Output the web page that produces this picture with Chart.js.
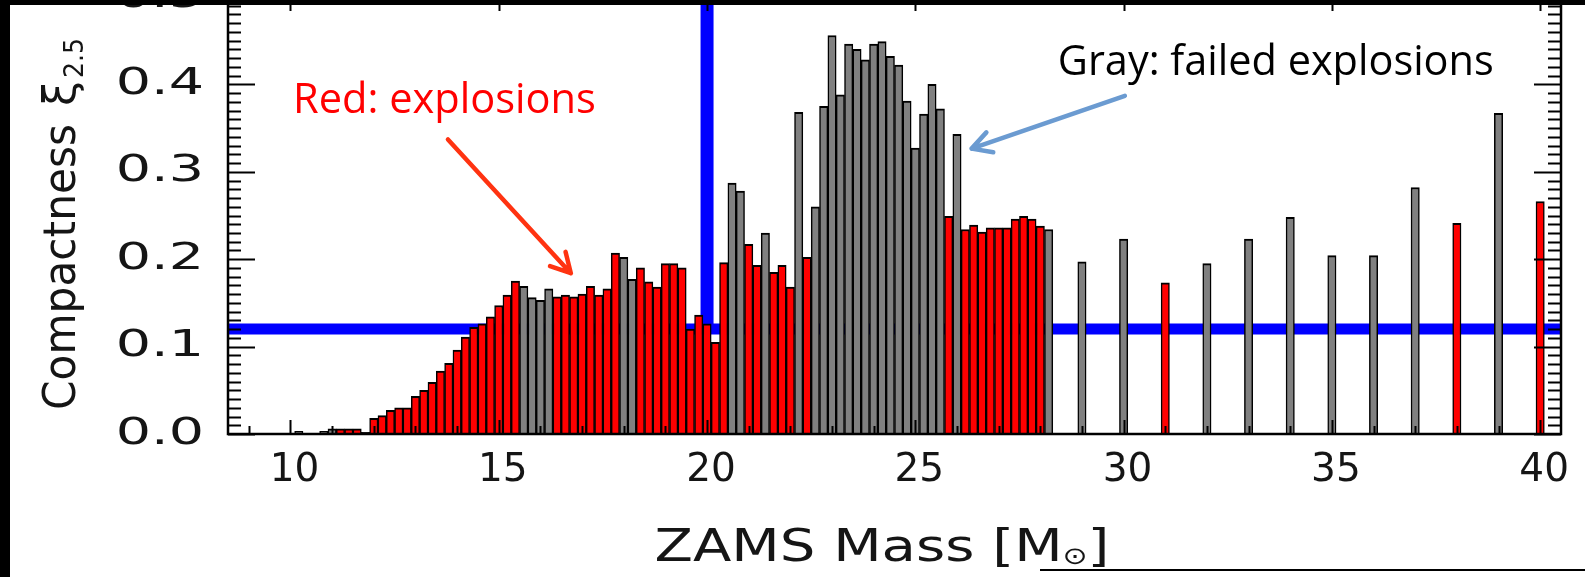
<!DOCTYPE html>
<html>
<head>
<meta charset="utf-8">
<script src="https://cdn.jsdelivr.net/npm/chart.js@4"></script>
<style>
  body { margin: 0; background: #fff; width: 1585px; height: 577px; overflow: hidden; position: relative; }
  #wrap { position: absolute; left: 0; top: -10px; width: 1585px; height: 587px; }
  .edge { position: absolute; background: #000; }
</style>
</head>
<body>
<div id="wrap"><canvas id="chart" width="1585" height="587"></canvas></div>
<div class="edge" style="left:0;top:0;width:10px;height:577px"></div>
<div class="edge" style="left:0;top:0;width:1585px;height:5px"></div>
<div class="edge" style="left:1040px;top:569px;width:545px;height:2px"></div>
<script>
// ZAMS mass of each progenitor (Msun)
const masses = [
  10.2, 10.8, 11.0, 11.2, 11.4, 11.6, 11.8,
  12.0, 12.2, 12.4, 12.6, 12.8, 13.0, 13.2, 13.4, 13.6, 13.8,
  14.0, 14.2, 14.4, 14.6, 14.8, 15.0, 15.2, 15.4, 15.6, 15.8,
  16.0, 16.2, 16.4, 16.6, 16.8, 17.0, 17.2, 17.4, 17.6, 17.8,
  18.0, 18.2, 18.4, 18.6, 18.8, 19.0, 19.2, 19.4, 19.6, 19.8,
  20.0, 20.2, 20.4, 20.6, 20.8, 21.0, 21.2, 21.4, 21.6, 21.8,
  22.0, 22.2, 22.4, 22.6, 22.8, 23.0, 23.2, 23.4, 23.6, 23.8,
  24.0, 24.2, 24.4, 24.6, 24.8, 25.0, 25.2, 25.4, 25.6, 25.8,
  26.0, 26.2, 26.4, 26.6, 26.8, 27.0, 27.2, 27.4, 27.6, 27.8,
  28.0, 28.2,
  29, 30, 31, 32, 33, 34, 35, 36, 37, 38, 39, 40
];

// compactness xi_2.5 at bounce
const compactness = [
  0.003, 0.003, 0.006, 0.006, 0.006, 0.006, 0.002,
  0.018, 0.021, 0.027, 0.030, 0.030, 0.043, 0.050, 0.059, 0.072, 0.081,
  0.096, 0.111, 0.122, 0.126, 0.134, 0.147, 0.159, 0.175, 0.169, 0.156,
  0.153, 0.166, 0.157, 0.159, 0.157, 0.160, 0.169, 0.159, 0.166, 0.207,
  0.202, 0.177, 0.190, 0.174, 0.168, 0.195, 0.195, 0.190, 0.120, 0.136,
  0.126, 0.105, 0.196, 0.287, 0.278, 0.217, 0.193, 0.230, 0.185, 0.193,
  0.168, 0.368, 0.202, 0.260, 0.375, 0.456, 0.388, 0.446, 0.440, 0.428,
  0.446, 0.449, 0.432, 0.422, 0.381, 0.327, 0.366, 0.400, 0.372, 0.249,
  0.343, 0.234, 0.239, 0.231, 0.236, 0.236, 0.236, 0.246, 0.249, 0.246,
  0.238, 0.234,
  0.197, 0.223, 0.173, 0.195, 0.223, 0.248, 0.204, 0.204, 0.282, 0.241, 0.367, 0.266
];

// 1 = successful explosion, 0 = failed (black hole)
const exploded = [
  0, 0, 0, 1, 1, 1, 0,
  1, 1, 1, 1, 1, 1, 1, 1, 1, 1,
  1, 1, 1, 1, 1, 1, 1, 1, 0, 0,
  0, 0, 1, 1, 1, 1, 1, 1, 1, 1,
  0, 0, 1, 1, 1, 1, 1, 1, 1, 1,
  1, 1, 1, 0, 0, 1, 1, 0, 1, 1,
  1, 0, 1, 0, 0, 0, 0, 0, 0, 0,
  0, 0, 0, 0, 0, 0, 0, 0, 0, 1,
  0, 1, 1, 1, 1, 1, 1, 1, 1, 1,
  1, 0,
  0, 0, 1, 0, 0, 0, 0, 0, 0, 1, 0, 1
];

const massTicks = [10, 15, 20, 25, 30, 35, 40];
const xiTicks = [0.0, 0.1, 0.2, 0.3, 0.4, 0.5];
const xiCut = 0.12;    // horizontal guide
const massCut = 20;    // vertical guide

const RED = '#ff0000';
const GRAY = '#808080';
const BLUE = '#0000ff';
const INK = '#151515';

// text labels and arrows, anchored in data units
const notes = [
  { text: 'Red: explosions', color: '#ff0000', mass: 10.06, xi: 0.381, width: 303 },
  { text: 'Gray: failed explosions', color: '#000000', mass: 28.42, xi: 0.4245, width: 436 }
];
const arrows = [
  { from: [13.78, 0.337], to: [16.73, 0.184], color: '#ff3311' },
  { from: [30.03, 0.387], to: [26.35, 0.3265], color: '#6b9bd1' }
];

function drawArrow(ctx, x0, y0, x1, y1, color) {
  const ang = Math.atan2(y1 - y0, x1 - x0);
  const head = 22;
  ctx.save();
  ctx.strokeStyle = color;
  ctx.lineWidth = 4.5;
  ctx.lineCap = 'round';
  ctx.lineJoin = 'round';
  ctx.beginPath();
  ctx.moveTo(x0, y0);
  ctx.lineTo(x1, y1);
  ctx.moveTo(x1 - head * Math.cos(ang - 0.5), y1 - head * Math.sin(ang - 0.5));
  ctx.lineTo(x1, y1);
  ctx.lineTo(x1 - head * Math.cos(ang + 0.5), y1 - head * Math.sin(ang + 0.5));
  ctx.stroke();
  ctx.restore();
}

// draw text squeezed or stretched horizontally to a given width
function fitText(ctx, text, x, y, width) {
  const w = ctx.measureText(text).width;
  ctx.save();
  ctx.translate(x, y);
  ctx.scale(width / w, 1);
  ctx.fillText(text, 0, 0);
  ctx.restore();
}

const decorations = {
  id: 'decorations',
  beforeDatasetsDraw(chart) {
    const { ctx, chartArea: a, scales: { x, y } } = chart;
    ctx.save();
    ctx.beginPath();
    ctx.rect(a.left, a.top, a.right - a.left, a.bottom - a.top);
    ctx.clip();
    ctx.strokeStyle = BLUE;
    ctx.lineWidth = 11;
    const yc = y.getPixelForValue(xiCut);
    ctx.beginPath();
    ctx.moveTo(a.left, yc);
    ctx.lineTo(a.right, yc);
    ctx.stroke();
    ctx.lineWidth = 13;
    const xc = x.getPixelForValue(massCut);
    ctx.beginPath();
    ctx.moveTo(xc, a.top);
    ctx.lineTo(xc, yc);
    ctx.stroke();
    ctx.restore();
  },
  afterDatasetsDraw(chart) {
    const { ctx, chartArea: a, scales: { x, y } } = chart;
    ctx.save();
    ctx.strokeStyle = '#000';
    ctx.lineWidth = 2;
    ctx.beginPath();
    // inward ticks on the y axes
    for (let i = 0; i <= 50; i++) {
      const py = Math.round(y.getPixelForValue(i / 100)) + 0.5;
      const len = i % 10 === 0 ? 27 : 13;
      ctx.moveTo(a.left, py); ctx.lineTo(a.left + len, py);
      ctx.moveTo(a.right, py); ctx.lineTo(a.right - len, py);
    }
    // inward ticks on the x axes
    for (let m = 9; m <= 40; m++) {
      const px = Math.round(x.getPixelForValue(m)) + 0.5;
      const len = m % 5 === 0 ? 14 : 8;
      ctx.moveTo(px, a.bottom); ctx.lineTo(px, a.bottom - len);
      ctx.moveTo(px, a.top); ctx.lineTo(px, a.top + len);
    }
    ctx.stroke();
    ctx.lineWidth = 2.5;
    ctx.strokeRect(a.left, a.top, a.right - a.left, a.bottom - a.top);
    ctx.restore();
  },
  afterDraw(chart) {
    const { ctx, chartArea: a, scales: { x, y } } = chart;
    ctx.save();
    ctx.fillStyle = INK;

    // y tick labels, drawn wide
    ctx.font = "37px 'DejaVu Sans'";
    ctx.textAlign = 'right';
    ctx.textBaseline = 'middle';
    y.ticks.forEach(t => {
      ctx.save();
      ctx.translate(204, y.getPixelForValue(t.value));
      ctx.scale(1.5, 1);
      ctx.fillText(t.value.toFixed(1), 0, 0);
      ctx.restore();
    });

    // x tick labels
    ctx.font = "39px 'DejaVu Sans'";
    ctx.textAlign = 'center';
    x.ticks.forEach(t => {
      ctx.fillText(String(t.value), x.getPixelForValue(t.value) + 4, a.bottom + 37);
    });
    ctx.textAlign = 'left';
    ctx.textBaseline = 'alphabetic';

    // x axis title: ZAMS Mass [M_sun]
    const big = "45px 'DejaVu Sans'";
    const small = "24px 'DejaVu Sans'";
    ctx.font = big;
    const w1 = ctx.measureText('ZAMS Mass [M').width;
    const w3 = ctx.measureText(']').width;
    ctx.font = small;
    const w2 = ctx.measureText('\u2299').width;
    const total = w1 + w2 + w3;
    ctx.save();
    ctx.translate(882 - 455 / 2, 571);
    ctx.scale(455 / total, 1);
    ctx.font = big;
    ctx.fillText('ZAMS Mass [M', 0, 0);
    ctx.font = small;
    ctx.fillText('\u2299', w1, 3);
    ctx.font = big;
    ctx.fillText(']', w1 + w2, 0);
    ctx.restore();

    // y axis title: Compactness xi_2.5, read bottom to top
    ctx.save();
    ctx.translate(75, 420);
    ctx.rotate(-Math.PI / 2);
    ctx.font = big;
    fitText(ctx, 'Compactness', 0, 0, 286);
    ctx.fillText('\u03be', 304, 0);
    ctx.font = "27px 'DejaVu Sans'";
    fitText(ctx, '2.5', 332, 8, 40);
    ctx.restore();

    // annotation texts
    notes.forEach(n => {
      ctx.font = "100px 'Open Sans'";
      const size = 100 * n.width / ctx.measureText(n.text).width;
      ctx.font = `${size}px 'Open Sans'`;
      ctx.fillStyle = n.color;
      ctx.textBaseline = 'middle';
      ctx.fillText(n.text, x.getPixelForValue(n.mass), y.getPixelForValue(n.xi));
    });
    arrows.forEach(r => {
      drawArrow(ctx,
        x.getPixelForValue(r.from[0]), y.getPixelForValue(r.from[1]),
        x.getPixelForValue(r.to[0]), y.getPixelForValue(r.to[1]), r.color);
    });
    ctx.restore();
  }
};

new Chart(document.getElementById('chart'), {
  type: 'bar',
  data: {
    datasets: [{
      data: masses.map((m, i) => ({ x: m, y: compactness[i] })),
      backgroundColor: exploded.map(e => e ? RED : GRAY),
      borderColor: '#000',
      borderWidth: { top: 2, left: 1.5, right: 1.5, bottom: 0 },
      barPercentage: 1,
      categoryPercentage: 1
    }]
  },
  options: {
    responsive: false,
    animation: false,
    devicePixelRatio: 1,
    layout: { padding: { top: 7, right: 24, left: 0, bottom: 0 } },
    plugins: { legend: { display: false }, tooltip: { enabled: false } },
    scales: {
      x: {
        type: 'linear',
        offset: false,
        min: 8.5,
        max: 40.5,
        grid: { display: false, drawTicks: false },
        border: { display: false },
        afterBuildTicks: s => { s.ticks = massTicks.map(v => ({ value: v })); },
        afterFit: s => { s.height = 143; s.paddingLeft = 0; s.paddingRight = 0; },
        ticks: { display: false }
      },
      y: {
        min: 0,
        max: 0.5,
        grid: { display: false, drawTicks: false },
        border: { display: false },
        afterBuildTicks: s => { s.ticks = xiTicks.map(v => ({ value: v })); },
        afterFit: s => { s.width = 228; s.paddingTop = 0; s.paddingBottom = 0; },
        ticks: { display: false }
      }
    }
  },
  plugins: [decorations]
});
</script>
</body>
</html>
